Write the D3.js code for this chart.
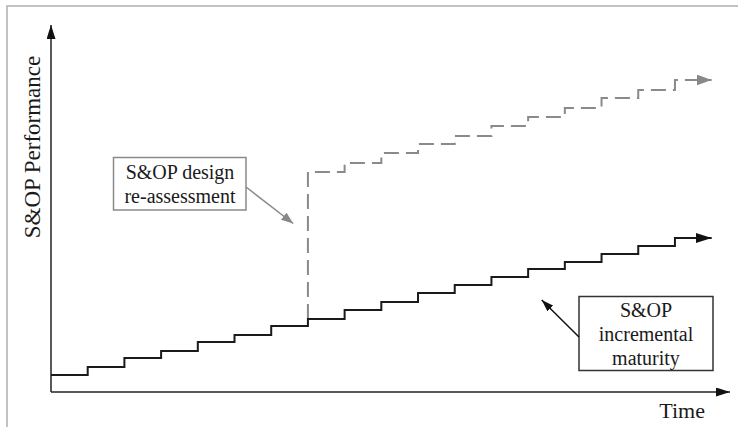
<!DOCTYPE html>
<html>
<head>
  <meta charset="utf-8">
  <script src="https://d3js.org/d3.v7.min.js"></script>
  <style>
    body { margin: 0; background: white; }
    svg { display: block; font-family: "Liberation Serif", "DejaVu Serif", serif; }
  </style>
</head>
<body>
<svg id="chart" width="738" height="427"></svg>
<script>
// staircase levels, one per time period (performance units)
var periods = d3.range(18);
var incremental = [17, 25, 34, 41, 50, 57, 66, 73, 82, 90, 99, 107, 115, 123, 130, 138, 146, 154];
// re-designed path starts at period 7, after the jump
var redesignStart = 7;
var redesign = [220, 229, 239, 248, 256, 266, 275, 284, 294, 302, 312];

var yLabel = "S&OP Performance";
var xLabel = "Time";
var noteRedesign = ["S&OP design", "re-assessment"];
var noteIncremental = ["S&OP", "incremental", "maturity"];

var svg = d3.select("#chart");

// scales
var x = d3.scaleLinear().domain([0, 18.5]).range([51, 730]);
var y = d3.scaleLinear().domain([0, 367]).range([392, 25]);

// faint frame from the original crop
svg.append("path")
  .attr("d", "M7,427 L7,6 L738,6")
  .attr("fill", "none")
  .attr("stroke", "#b0b0b0")
  .attr("stroke-width", 1.5);

// arrow markers
var defs = svg.append("defs");
function marker(id, color, len, half) {
  defs.append("marker")
    .attr("id", id)
    .attr("markerUnits", "userSpaceOnUse")
    .attr("viewBox", "0 " + (-half) + " " + len + " " + (2 * half))
    .attr("refX", len).attr("refY", 0)
    .attr("markerWidth", len).attr("markerHeight", 2 * half)
    .attr("orient", "auto")
    .append("path")
    .attr("d", "M0," + (-half) + "L" + len + ",0L0," + half + "Z")
    .attr("fill", color);
}
marker("axisHead", "#111", 14, 4.5);
marker("blackHead", "#111", 16, 5);
marker("greyHead", "#888", 15, 5.5);
marker("noteGrey", "#888", 12, 4.5);
marker("noteBlack", "#111", 12, 4);

// axes (plain arrows, no ticks)
svg.append("line")
  .attr("x1", x(0)).attr("y1", y(0)).attr("x2", x(0)).attr("y2", y(367))
  .attr("stroke", "#222").attr("stroke-width", 1.5)
  .attr("marker-end", "url(#axisHead)");
svg.append("line")
  .attr("x1", x(0)).attr("y1", y(0)).attr("x2", x(18.5)).attr("y2", y(0))
  .attr("stroke", "#222").attr("stroke-width", 1.5)
  .attr("marker-end", "url(#axisHead)");

var line = d3.line()
  .x(function(d) { return x(d[0]); })
  .y(function(d) { return y(d[1]); })
  .curve(d3.curveStepAfter);

// incremental maturity staircase
var blackPts = periods.map(function(p, i) { return [p, incremental[i]]; });
blackPts.push([18, incremental[incremental.length - 1]]);

// redesign staircase (dashed grey), starting from the black level at the jump
var greyPts = [[redesignStart, incremental[redesignStart]]];
redesign.forEach(function(v, i) { greyPts.push([redesignStart + i, v]); });
greyPts.push([18, redesign[redesign.length - 1]]);

svg.append("path")
  .datum(greyPts)
  .attr("d", line)
  .attr("fill", "none")
  .attr("stroke", "#8a8a8a")
  .attr("stroke-width", 2)
  .attr("stroke-dasharray", "15,7")
  .attr("marker-end", "url(#greyHead)");

svg.append("path")
  .datum(blackPts)
  .attr("d", line)
  .attr("fill", "none")
  .attr("stroke", "#1a1a1a")
  .attr("stroke-width", 2)
  .attr("marker-end", "url(#blackHead)");

// axis titles
svg.append("text")
  .attr("transform", "translate(40," + 147 + ") rotate(-90)")
  .attr("text-anchor", "middle")
  .attr("font-size", 23)
  .attr("fill", "#1a1a1a")
  .text(yLabel);
svg.append("text")
  .attr("x", 705).attr("y", 418)
  .attr("text-anchor", "end")
  .attr("font-size", 22)
  .attr("fill", "#1a1a1a")
  .text(xLabel);

// annotation: design re-assessment
svg.append("rect")
  .attr("x", 113.5).attr("y", 157.5).attr("width", 132.5).attr("height", 52.5)
  .attr("fill", "white").attr("stroke", "#8a8a8a").attr("stroke-width", 1.5);
svg.selectAll(".n1").data(noteRedesign).enter().append("text")
  .attr("class", "n1")
  .attr("x", 180).attr("y", function(d, i) { return 179 + i * 24; })
  .attr("text-anchor", "middle").attr("font-size", 20).attr("fill", "#1a1a1a")
  .text(function(d) { return d; });
svg.append("line")
  .attr("x1", 246).attr("y1", 187)
  .attr("x2", x(6.6)).attr("y2", y(168.5))
  .attr("stroke", "#8a8a8a").attr("stroke-width", 1.5)
  .attr("marker-end", "url(#noteGrey)");

// annotation: incremental maturity
svg.append("rect")
  .attr("x", 579).attr("y", 296.5).attr("width", 134).attr("height", 74)
  .attr("fill", "white").attr("stroke", "#333").attr("stroke-width", 1.5);
svg.selectAll(".n2").data(noteIncremental).enter().append("text")
  .attr("class", "n2")
  .attr("x", 646).attr("y", function(d, i) { return 317 + i * 24; })
  .attr("text-anchor", "middle").attr("font-size", 20).attr("fill", "#1a1a1a")
  .text(function(d) { return d; });
svg.append("line")
  .attr("x1", 579).attr("y1", 337)
  .attr("x2", x(13.37)).attr("y2", y(92))
  .attr("stroke", "#111").attr("stroke-width", 1.5)
  .attr("marker-end", "url(#noteBlack)");
</script>
</body>
</html>
